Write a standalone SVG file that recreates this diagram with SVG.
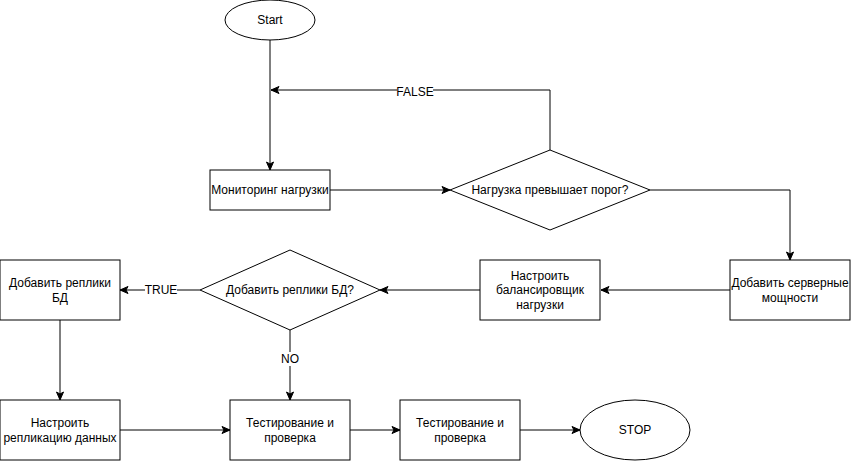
<svg xmlns="http://www.w3.org/2000/svg" width="851" height="461" viewBox="0 0 851 461">
  <style>
    .shape { fill: #ffffff; stroke: #000000; stroke-width: 1; }
    .edge { fill: none; stroke: #000000; stroke-width: 1; }
    .arrow { marker-end: url(#classic); }
    text { font-family: "Liberation Sans", Arial, sans-serif; font-size: 12px; fill: #000000; text-anchor: middle; }
    .lbl-bg { fill: #ffffff; stroke: none; }
  </style>
  <defs>
    <marker id="classic" markerUnits="userSpaceOnUse" markerWidth="10" markerHeight="10" viewBox="0 0 10 10" refX="9" refY="5" orient="auto">
      <path d="M1,1.5 L9,5 L1,8.5 L3,5 Z" fill="#000000" stroke="#000000" stroke-width="1"/>
    </marker>
  </defs>
  <rect width="851" height="461" fill="#ffffff"/>

  <g id="connectors">
    <path class="edge arrow" d="M270,40 L270,170"/>
    <path class="edge arrow" d="M550,150 L550,90 L271,90"/>
    <path class="edge arrow" d="M330,190 L450,190"/>
    <path class="edge arrow" d="M650,190 L790,190 L790,260"/>
    <path class="edge arrow" d="M730,290 L601,290"/>
    <path class="edge arrow" d="M480,290 L380,290"/>
    <path class="edge arrow" d="M200,290 L120,290"/>
    <path class="edge arrow" d="M290,330 L290,400"/>
    <path class="edge arrow" d="M60,320 L60,400"/>
    <path class="edge arrow" d="M120,430 L230,430"/>
    <path class="edge arrow" d="M350,430 L400,430"/>
    <path class="edge arrow" d="M520,430 L580,430"/>
    <g id="edge-labels">
      <rect class="lbl-bg" x="397" y="84" width="36" height="14"/>
      <text x="415" y="96.3">FALSE</text>
      <rect class="lbl-bg" x="145" y="284" width="32" height="14"/>
      <text x="161" y="294.3">TRUE</text>
      <rect class="lbl-bg" x="281" y="352" width="18" height="14"/>
      <text x="290" y="363.3">NO</text>
    </g>
  </g>

  <g id="start">
    <ellipse class="shape" cx="270" cy="20" rx="45" ry="20"/>
    <text x="270" y="24.3">Start</text>
  </g>

  <g id="monitoring">
    <rect class="shape" x="210" y="170" width="120" height="40"/>
    <text x="270" y="194.3">Мониторинг нагрузки</text>
  </g>

  <g id="load-check">
    <path class="shape" d="M550,150 L650,190 L550,230 L450,190 Z"/>
    <text x="550" y="194.3">Нагрузка превышает порог?</text>
  </g>

  <g id="add-servers">
    <rect class="shape" x="730" y="260" width="120" height="60"/>
    <text x="790" y="287.1">Добавить серверные</text>
    <text x="790" y="301.5">мощности</text>
  </g>

  <g id="balancer">
    <rect class="shape" x="480" y="260" width="120" height="60"/>
    <text x="540" y="279.9">Настроить</text>
    <text x="540" y="294.3">балансировщик</text>
    <text x="540" y="308.7">нагрузки</text>
  </g>

  <g id="replicas-check">
    <path class="shape" d="M290,250 L380,290 L290,330 L200,290 Z"/>
    <text x="290" y="294.3">Добавить реплики БД?</text>
  </g>

  <g id="add-replicas">
    <rect class="shape" x="0" y="260" width="120" height="60"/>
    <text x="60" y="287.1">Добавить реплики</text>
    <text x="60" y="301.5">БД</text>
  </g>

  <g id="replication">
    <rect class="shape" x="0" y="400" width="120" height="60"/>
    <text x="60" y="427.1">Настроить</text>
    <text x="60" y="441.5">репликацию данных</text>
  </g>

  <g id="testing-1">
    <rect class="shape" x="230" y="400" width="120" height="60"/>
    <text x="290" y="427.1">Тестирование и</text>
    <text x="290" y="441.5">проверка</text>
  </g>

  <g id="testing-2">
    <rect class="shape" x="400" y="400" width="120" height="60"/>
    <text x="460" y="427.1">Тестирование и</text>
    <text x="460" y="441.5">проверка</text>
  </g>

  <g id="stop">
    <ellipse class="shape" cx="635" cy="430" rx="55" ry="30"/>
    <text x="635" y="434.3">STOP</text>
  </g>
</svg>
